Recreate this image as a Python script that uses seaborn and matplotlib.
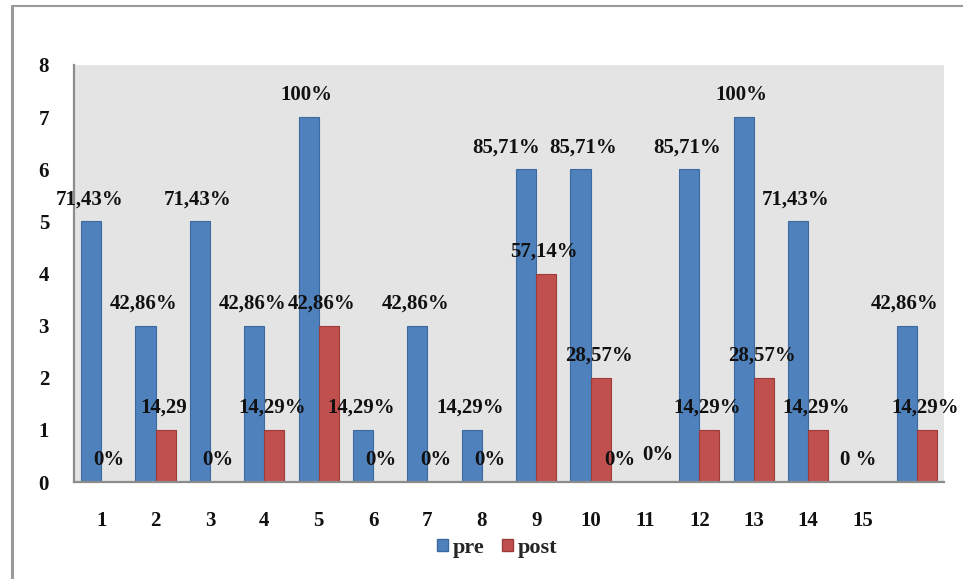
import matplotlib
matplotlib.use("Agg")
import matplotlib.pyplot as plt
from matplotlib.lines import Line2D
from matplotlib.patches import Patch
import seaborn as sns
import pandas as pd

# Chart data
groups = [str(i) for i in range(1, 17)]
tick_labels = [str(i) for i in range(1, 16)] + [""]
pre = [5, 3, 5, 3, 7, 1, 3, 1, 6, 6, 0, 6, 7, 5, 0, 3]
post = [0, 1, 0, 1, 3, 0, 0, 0, 4, 2, 0, 1, 2, 1, 0, 1]
pre_labels = ["71,43%", "42,86%", "71,43%", "42,86%", "100%", "14,29%", "42,86%", "14,29%",
              "85,71%", "85,71%", "0%", "85,71%", "100%", "71,43%", "0 %", "42,86%"]
post_labels = ["0%", "14,29", "0%", "14,29%", "42,86%", "0%", "0%", "0%",
               "57,14%", "28,57%", "0%", "14,29%", "28,57%", "14,29%", "", "14,29%"]
series = ["pre", "post"]

PRE_COLOR = "#4F81BD"
POST_COLOR = "#C0504D"
PRE_EDGE = "#3C6AA0"
POST_EDGE = "#9E3B38"
FONT = ["Liberation Serif", "DejaVu Serif"]

df = pd.DataFrame({
    "grupo": groups * 2,
    "serie": ["pre"] * len(groups) + ["post"] * len(groups),
    "valor": pre + post,
})

sns.set_style("white")
plt.rcParams["font.family"] = FONT

fig = plt.figure(figsize=(9.63, 5.79), dpi=100)
ax = fig.add_axes([74 / 963, 1 - 482 / 579, (944 - 74) / 963, (482 - 65) / 579])
ax.set_facecolor("#E4E4E4")

sns.barplot(data=df, x="grupo", y="valor", hue="serie", order=groups, hue_order=series,
            palette={"pre": PRE_COLOR, "post": POST_COLOR}, width=0.74, gap=0,
            saturation=1, legend=False, ax=ax)

edges = [PRE_EDGE, POST_EDGE]
all_labels = [pre_labels, post_labels]
# small horizontal / vertical nudges (pixels) for labels that would collide
nudges = {
    (4, 1): (-5, 0),
    (8, 0): (-18, 0),
    (9, 0): (5, 0),
    (10, 0): (-13, 0),
    (10, 1): (5, 5),
    (14, 0): (8, 0),
}

for si, cont in enumerate(ax.containers):
    for gi, bar in enumerate(cont):
        bar.set_edgecolor(edges[si])
        bar.set_linewidth(0.8)
        text = all_labels[si][gi]
        if not text:
            continue
        dx, dy = nudges.get((gi, si), (0, 0))
        ax.annotate(text, (bar.get_x() + bar.get_width() / 2, bar.get_height()),
                    xytext=(-2 + dx, 22 + dy), textcoords="offset pixels",
                    ha="center", va="center", fontsize=15, fontweight="bold",
                    color="#111111", family=FONT, annotation_clip=False)

ax.set_xlim(-0.5, len(groups) - 0.5)
ax.set_ylim(0, 8)
ax.set_yticks(range(0, 9))
ax.set_xticks(range(len(groups)))
ax.set_xticklabels(tick_labels)
ax.set_xlabel("")
ax.set_ylabel("")
ax.tick_params(axis="y", length=0, pad=18, labelsize=15, labelcolor="#111111")
ax.tick_params(axis="x", length=0, pad=21, labelsize=15, labelcolor="#111111")
for lbl in ax.get_xticklabels() + ax.get_yticklabels():
    lbl.set_fontweight("bold")

for side in ["top", "right"]:
    ax.spines[side].set_visible(False)
for side in ["left", "bottom"]:
    ax.spines[side].set_color("#8C8C8C")
    ax.spines[side].set_linewidth(1.6)

handles = [Patch(facecolor=PRE_COLOR, edgecolor=PRE_EDGE, label="pre"),
           Patch(facecolor=POST_COLOR, edgecolor=POST_EDGE, label="post")]
fig.legend(handles=handles, loc="center", bbox_to_anchor=(497 / 963, 1 - 548 / 579),
           ncol=2, frameon=False, handlelength=0.5, handleheight=0.5,
           handletextpad=0.2, columnspacing=0.8,
           prop={"family": FONT, "size": 16, "weight": "bold"})

# outer chart frame
fig.add_artist(Line2D([12 / 963, 12 / 963], [0, 1 - 6 / 579], transform=fig.transFigure,
                      color="#9A9A9A", linewidth=2.2))
fig.add_artist(Line2D([12 / 963, 1], [1 - 6 / 579, 1 - 6 / 579], transform=fig.transFigure,
                      color="#9A9A9A", linewidth=1.5))

fig.savefig("out.png", dpi=100, facecolor="white")
